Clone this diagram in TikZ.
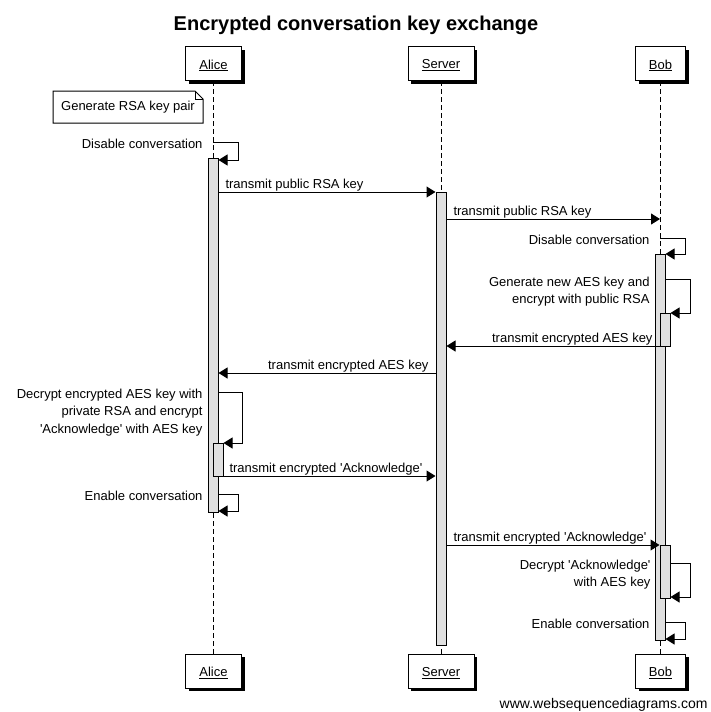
\documentclass[tikz,border=0pt]{standalone}
\usepackage{fontspec}
\setmainfont{Liberation Sans}
\usetikzlibrary{arrows.meta,shadows}
\definecolor{barfill}{RGB}{224,224,224}
\newcommand{\sq}{\textquotesingle}
\newcommand{\pname}[1]{\raisebox{-2pt}[\height][\depth]{\underline{#1}}}
\begin{document}
\begin{tikzpicture}[x=1pt,y=-1pt, line width=1pt,
  font=\fontsize{13}{17.5}\selectfont,
  actor/.style={draw, fill=white, minimum height=34pt, inner sep=0,
    drop shadow={shadow xshift=3pt, shadow yshift=-3pt, fill=black, opacity=1}},
  life/.style={line width=1pt, dash pattern=on 5pt off 3pt},
  actbar/.style={draw, fill=barfill, minimum width=10pt, inner sep=0, anchor=north},
  msg/.style={-{Triangle[length=9pt,width=11pt]}},
  lbl/.style={inner sep=0},
  mlbl/.style={inner sep=0, align=right, anchor=north east}]
\useasboundingbox (0,0) rectangle (710,712);
% title
\node[lbl, font=\bfseries\fontsize{20}{24}\selectfont, anchor=base] (title) at (356,30) {Encrypted conversation key exchange};
% participants
\node[actor, minimum width=56pt] (aTop) at (213.5,63.5) {\pname{Alice}};
\node[actor, minimum width=66pt] (sTop) at (441,63.5) {\pname{Server}};
\node[actor, minimum width=50pt] (bTop) at (660.5,63.5) {\pname{Bob}};
\node[actor, minimum width=56pt] (aBot) at (213.5,671) {\pname{Alice}};
\node[actor, minimum width=66pt] (sBot) at (441,671) {\pname{Server}};
\node[actor, minimum width=50pt] (bBot) at (660.5,671) {\pname{Bob}};
% lifelines
\draw[life] (213,81) coordinate (aL1) -- (213,654) coordinate (aL2);
\draw[life] (441,81) coordinate (sL1) -- (441,654) coordinate (sL2);
\draw[life] (660,81) coordinate (bL1) -- (660,654) coordinate (bL2);
% note
\draw[fill=white] (53,91) -- (195,91) -- (203,99) -- (203,123) -- (53,123) -- cycle;
\draw (195,91) -- (195,99) -- (203,99);
\node[lbl] (note) at (128,107.5) {Generate RSA key pair};
% activation bars
\node[actbar, minimum height=354pt] (aBar) at (213,158) {};
\node[actbar, minimum height=453pt] (sBar) at (441,192) {};
\node[actbar, minimum height=386pt] (bBar) at (660,254) {};
\node[actbar, minimum height=33pt] (aBar2) at (218,443) {};
\node[actbar, minimum height=33pt] (bBar2) at (665,313) {};
\node[actbar, minimum height=53pt] (bBar3) at (665,545) {};
% Alice: disable conversation
\draw[msg] (aL1 |- 0,142) -- ++(25,0) |- (aBar.east |- 0,160);
\node[lbl, anchor=base east] (t1) at (203,148) {Disable conversation};
% Alice -> Server
\draw[msg] (aBar.east |- 0,192) -- (sBar.west |- 0,192);
\node[lbl, anchor=base west] (t2) at (225,188) {transmit public RSA key};
% Server -> Bob
\draw[msg] (sBar.east |- 0,219) -- (bL1 |- 0,219);
\node[lbl, anchor=base west] (t3) at (453,215) {transmit public RSA key};
% Bob: disable
\draw[msg] (bL1 |- 0,238) -- ++(25,0) |- (bBar.east |- 0,254);
\node[lbl, anchor=base east] (t4) at (650,244) {Disable conversation};
% Bob: generate
\draw[msg] (bBar.east |- 0,279) -- ++(25,0) |- (bBar2.east |- 0,313);
\node[mlbl] (t5) at (650,276.5) {Generate new AES key and\\encrypt with public RSA};
% Bob -> Server
\draw[msg] (bBar2.west |- 0,346) -- (sBar.east |- 0,346);
\node[lbl, anchor=base east] (t6) at (653,342) {transmit encrypted AES key};
% Server -> Alice
\draw[msg] (sBar.west |- 0,373) -- (aBar.east |- 0,373);
\node[lbl, anchor=base east] (t7) at (429,369) {transmit encrypted AES key};
% Alice: decrypt
\draw[msg] (aBar.east |- 0,392) -- ++(24,0) |- (aBar2.east |- 0,443);
\node[mlbl] (t8) at (203,388.5) {Decrypt encrypted AES key with\\private RSA and encrypt\\\sq Acknowledge\sq{} with AES key};
% Alice -> Server
\draw[msg] (aBar2.east |- 0,476) -- (sBar.west |- 0,476);
\node[lbl, anchor=base west] (t9) at (229,472) {transmit encrypted \sq Acknowledge\sq};
% Alice: enable
\draw[msg] (aBar.east |- 0,494) -- ++(20,0) |- (aBar.east |- 0,511);
\node[lbl, anchor=base east] (t10) at (203,500) {Enable conversation};
% Server -> Bob
\draw[msg] (sBar.east |- 0,545) -- (bBar3.west |- 0,545);
\node[lbl, anchor=base west] (t11) at (453,541) {transmit encrypted \sq Acknowledge\sq};
% Bob: decrypt ack
\draw[msg] (bBar3.east |- 0,563) -- ++(20,0) |- (bBar3.east |- 0,597);
\node[mlbl] (t12) at (651,559.5) {Decrypt \sq Acknowledge\sq\\with AES key};
% Bob: enable
\draw[msg] (bBar.east |- 0,622) -- ++(20,0) |- (bBar.east |- 0,639);
\node[lbl, anchor=base east] (t13) at (650,628) {Enable conversation};
% footer
\node[lbl, anchor=base east, font=\fontsize{14}{16}\selectfont] (wsd) at (708,708) {www.websequencediagrams.com};
\end{tikzpicture}
\end{document}
